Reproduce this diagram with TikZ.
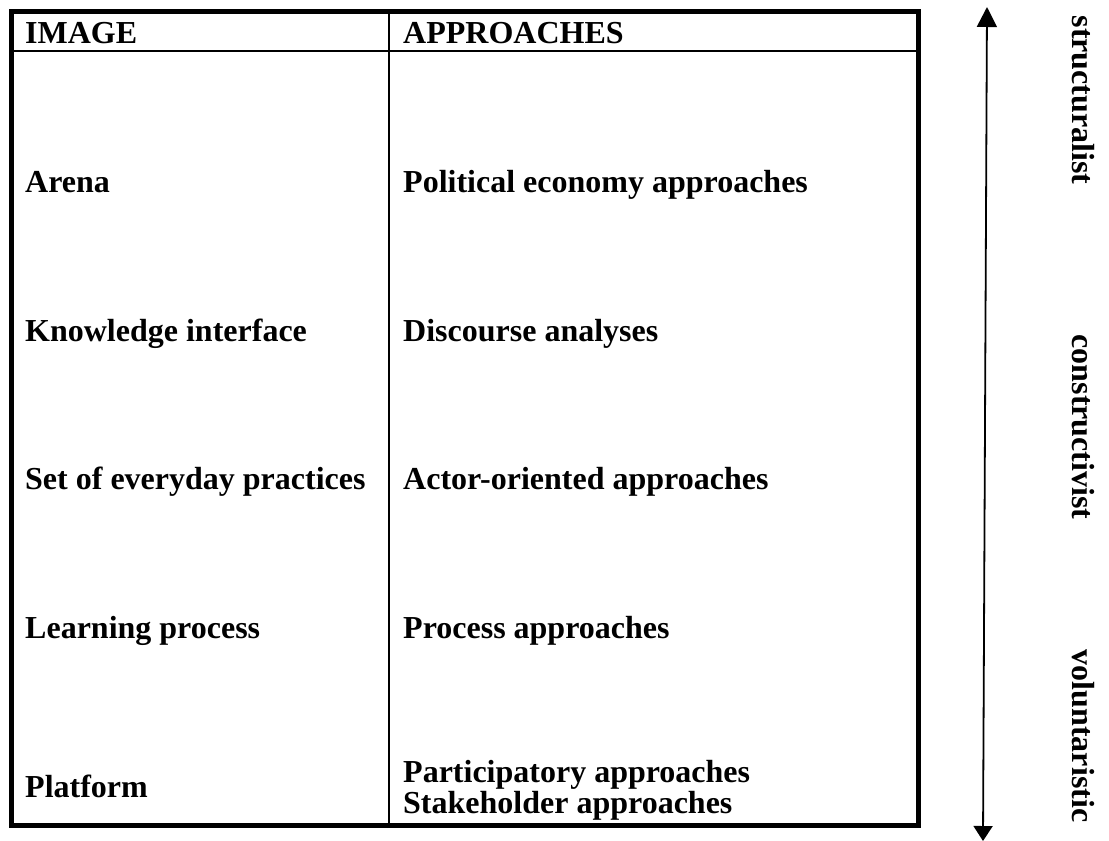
\documentclass[tikz,border=0pt]{standalone}
\usepackage{fontspec}
\setmainfont{Liberation Serif}
\usetikzlibrary{arrows.meta}
\begin{document}
\begin{tikzpicture}[x=1pt,y=-1pt,
  cell/.style={inner sep=0pt,anchor=base west,font=\fontsize{32}{34}\selectfont\bfseries},
  side/.style={inner sep=0pt,anchor=center,rotate=-90,font=\fontsize{32}{34}\selectfont\bfseries},
  frame/.style={line width=5pt},
  rule/.style={line width=2.5pt},
  axis/.style={line width=1.8pt}]
\useasboundingbox (0,0) rectangle (1109,841);
% table
\coordinate (tl) at (11,11.5);
\coordinate (br) at (918,825);
\draw[frame] (tl) rectangle (br);
\draw[rule] (11,51) -- (918,51);
\draw[rule] (389,11.5) -- (389,825);
% header
\node[cell] (h1) at (25,43) {IMAGE};
\node[cell] (h2) at (403,43) {APPROACHES};
% rows
\node[cell] (i1) at (25,192) {Arena};
\node[cell] (a1) at (403,192) {Political economy approaches};
\node[cell] (i2) at (25,341) {Knowledge interface};
\node[cell] (a2) at (403,341) {Discourse analyses};
\node[cell] (i3) at (25,489) {Set of everyday practices};
\node[cell] (a3) at (403,489) {Actor-oriented approaches};
\node[cell] (i4) at (25,638) {Learning process};
\node[cell] (a4) at (403,638) {Process approaches};
\node[cell] (i5) at (25,797) {Platform};
\node[cell] (a5) at (403,782) {Participatory approaches};
\node[cell] (a6) at (403,813) {Stakeholder approaches};
% axis
\coordinate (atop) at (987,7);
\coordinate (abot) at (983,841);
\draw[axis,{Triangle[width=20pt,length=20pt]}-{Triangle[width=19pt,length=15pt]}] (atop) -- (abot);
\node[side] (s1) at (1083,100) {structuralist};
\node[side] (s2) at (1083,427) {constructivist};
\node[side] (s3) at (1083,736) {voluntaristic};
\end{tikzpicture}
\end{document}
